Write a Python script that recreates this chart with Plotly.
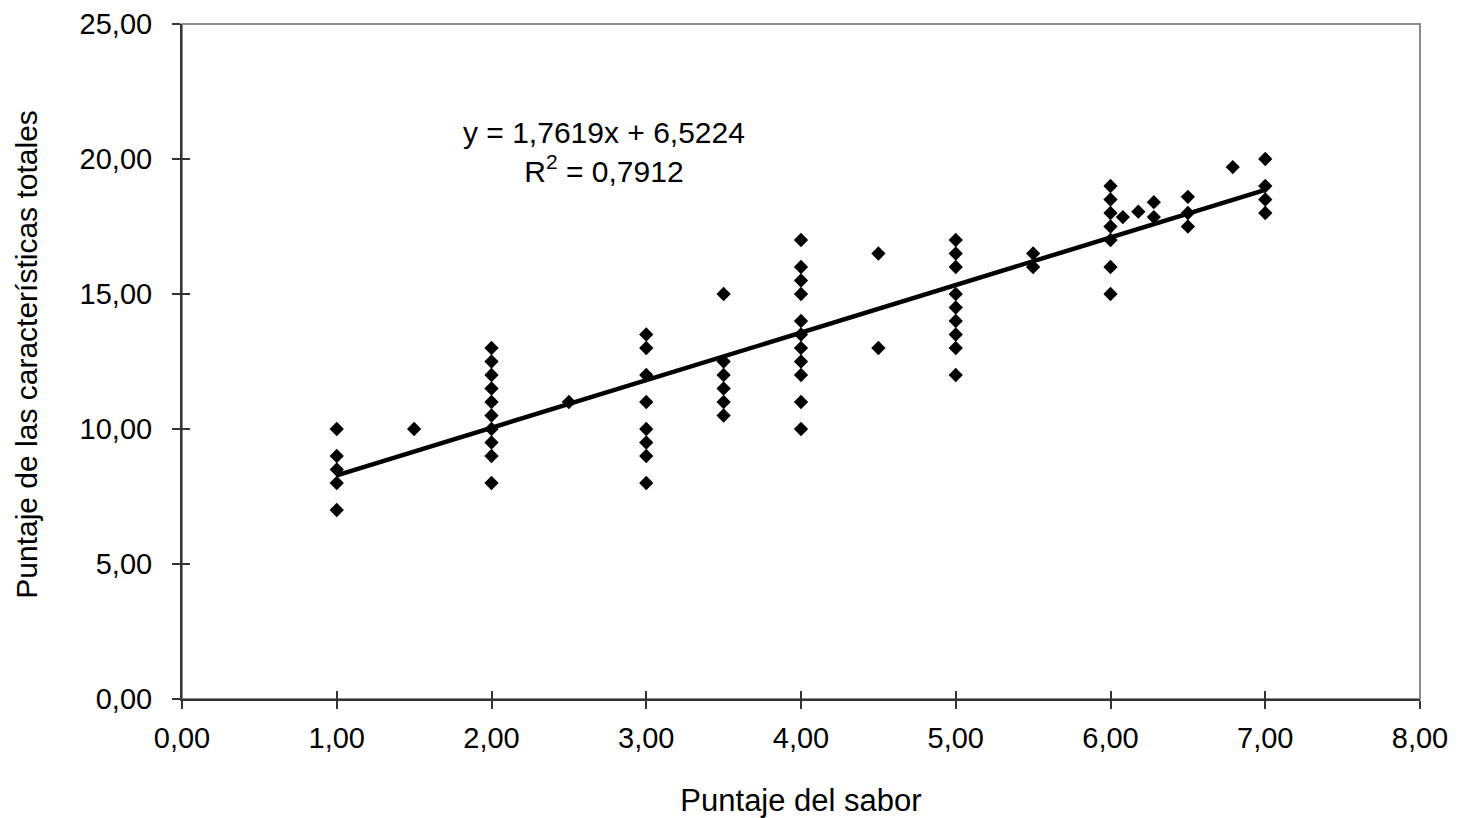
import plotly.graph_objects as go

# ---- data ----
sabor = [1, 1, 1, 1, 1,
         1.5,
         2, 2, 2, 2, 2, 2, 2, 2, 2, 2,
         2.5,
         3, 3, 3, 3, 3, 3, 3, 3,
         3.5, 3.5, 3.5, 3.5, 3.5, 3.5,
         4, 4, 4, 4, 4, 4, 4, 4, 4, 4, 4,
         4.5, 4.5,
         5, 5, 5, 5, 5, 5, 5, 5, 5,
         5.5, 5.5,
         6, 6, 6, 6, 6, 6, 6,
         6.08, 6.18, 6.28, 6.28,
         6.5, 6.5, 6.5,
         6.79,
         7, 7, 7, 7]
total = [10, 9, 8.5, 8, 7,
         10,
         13, 12.5, 12, 11.5, 11, 10.5, 10, 9.5, 9, 8,
         11,
         13.5, 13, 12, 11, 10, 9.5, 9, 8,
         15, 12.5, 12, 11.5, 11, 10.5,
         17, 16, 15.5, 15, 14, 13.5, 13, 12.5, 12, 11, 10,
         16.5, 13,
         17, 16.5, 16, 15, 14.5, 14, 13.5, 13, 12,
         16.5, 16,
         19, 18.5, 18, 17.5, 17, 16, 15,
         17.85, 18.05, 18.4, 17.85,
         18.6, 18, 17.5,
         19.7,
         20, 19, 18.5, 18]

slope = 1.7619
intercept = 6.5224
r2 = 0.7912

x_ticks = [0, 1, 2, 3, 4, 5, 6, 7, 8]
y_ticks = [0, 5, 10, 15, 20, 25]

x_title = "Puntaje del sabor"
y_title = "Puntaje de las características totales"

# trend line over the data range
xmin, xmax = min(sabor), max(sabor)
trend_x = [xmin, xmax]
trend_y = [slope * v + intercept for v in trend_x]

def fmt(v, d):
    return f"{v:.{d}f}".replace(".", ",")

FONT = "Liberation Sans, Arial, sans-serif"

fig = go.Figure()
fig.add_trace(go.Scatter(x=sabor, y=total, mode="markers",
                         marker=dict(symbol="diamond", size=11, color="black",
                                     line=dict(width=0)),
                         showlegend=False, hoverinfo="x+y"))
fig.add_trace(go.Scatter(x=trend_x, y=trend_y, mode="lines",
                         line=dict(color="black", width=4.5),
                         showlegend=False, hoverinfo="skip"))
# dummy trace for the overlay axes (inside half of the cross ticks)
fig.add_trace(go.Scatter(x=[None], y=[None], xaxis="x2", yaxis="y2",
                         showlegend=False, hoverinfo="skip"))

axis_common = dict(showgrid=False, zeroline=False, layer="above traces",
                   automargin=False)

fig.update_layout(
    width=1461, height=818,
    margin=dict(l=182, r=41, t=24, b=119),
    paper_bgcolor="white", plot_bgcolor="white",
    separators=", ",
    font=dict(family=FONT, size=29, color="black"),
    xaxis=dict(range=[0, 8], tickvals=x_ticks, tickformat=".2f",
               ticks="outside", ticklen=8, tickwidth=1.5, tickcolor="#333",
               showline=True, linecolor="#333", linewidth=2,
               ticklabelstandoff=4,
               title=dict(text=x_title, font=dict(size=31), standoff=38),
               **axis_common),
    yaxis=dict(range=[0, 25], tickvals=y_ticks, tickformat=".2f",
               ticks="outside", ticklen=8, tickwidth=1.5, tickcolor="#333",
               showline=True, linecolor="#333", linewidth=2,
               ticklabelstandoff=14,
               **axis_common),
    xaxis2=dict(range=[0, 8], tickvals=x_ticks, overlaying="x", anchor="y",
                side="bottom", ticks="inside", ticklen=8, tickwidth=1.5,
                tickcolor="#333", showticklabels=False, showline=False,
                **axis_common),
    yaxis2=dict(range=[0, 25], tickvals=y_ticks, overlaying="y", anchor="x",
                side="left", ticks="inside", ticklen=8, tickwidth=1.5,
                tickcolor="#333", showticklabels=False, showline=False,
                **axis_common),
    shapes=[dict(type="rect", xref="paper", yref="paper", x0=0, x1=1, y0=0, y1=1,
                 line=dict(color="#8a8a8a", width=2), layer="below")],
    annotations=[
        dict(x=2.73, y=20.95, xref="x", yref="y",
             text=f"y = {fmt(slope, 4)}x + {fmt(intercept, 4)}<br>R<sup>2</sup> = {fmt(r2, 4)}",
             showarrow=False, font=dict(size=30, family=FONT), align="center",
             yanchor="top", yshift=19),
        dict(x=0, y=0.51, xref="paper", yref="paper", xshift=-155,
             text=y_title, textangle=-90, showarrow=False,
             font=dict(size=30, family=FONT), xanchor="center", yanchor="middle"),
    ],
)

fig.write_html("out.html")
